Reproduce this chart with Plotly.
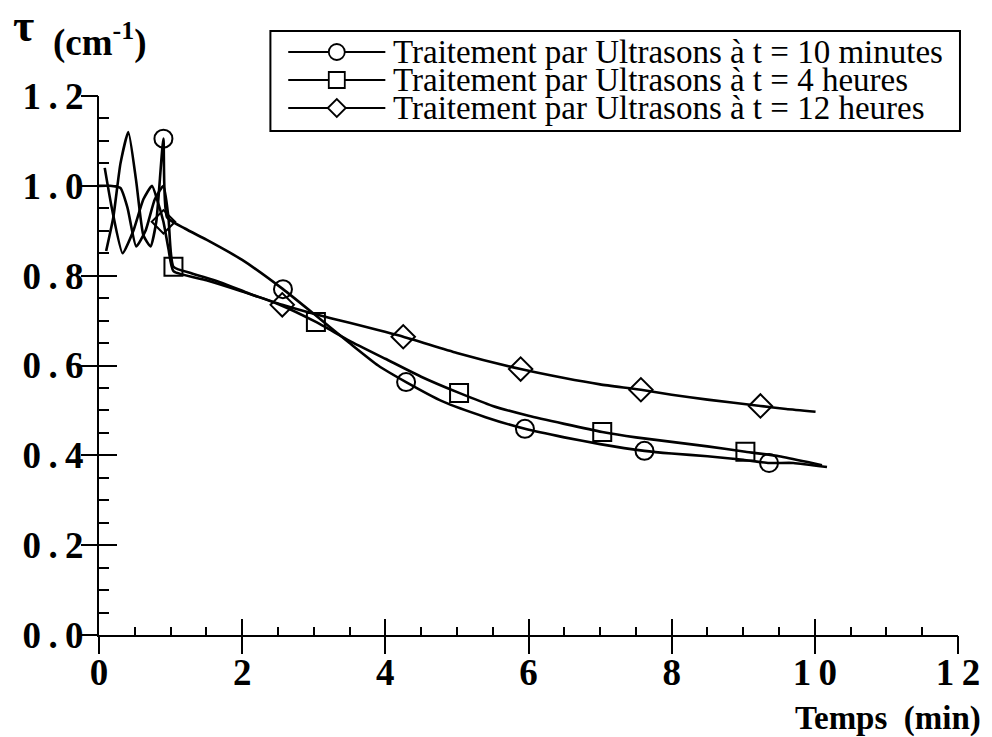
import plotly.graph_objects as go

# Turbidity tau (cm^-1) versus time (min) for three ultrasound treatment durations
labels = [
    "Traitement par Ultrasons à t = 10 minutes",
    "Traitement par Ultrasons à t = 4 heures",
    "Traitement par Ultrasons à t = 12 heures",
]

t_10min = [0.10, 0.20, 0.30, 0.41, 0.52, 0.62, 0.72, 0.80, 0.90, 0.95, 1.20, 1.50, 2.00, 2.57, 3.00,
           3.50, 3.90, 4.29, 4.80, 5.40, 5.95, 6.50, 7.00, 7.62, 8.00, 8.50, 9.00, 9.36, 9.70, 10.17]
tau_10min = [0.855, 0.93, 1.05, 1.12, 1.01, 0.89, 0.865, 0.92, 1.105, 0.93, 0.905, 0.88, 0.835, 0.77, 0.715,
             0.65, 0.60, 0.563, 0.52, 0.485, 0.459, 0.44, 0.425, 0.41, 0.404, 0.398, 0.39, 0.383, 0.383, 0.374]
marks_10min = [8, 13, 17, 20, 23, 27]

t_4h = [0.00, 0.15, 0.30, 0.40, 0.52, 0.65, 0.78, 0.90, 0.97, 1.04, 1.30, 1.70, 2.10, 2.50, 3.03,
        3.50, 4.00, 4.50, 5.03, 5.50, 6.00, 6.50, 7.03, 7.50, 8.00, 8.50, 9.03, 9.50, 9.90, 10.10]
tau_4h = [1.00, 1.00, 0.995, 0.95, 0.865, 0.90, 0.97, 1.00, 0.93, 0.82, 0.805, 0.785, 0.76, 0.737, 0.697,
          0.655, 0.615, 0.575, 0.539, 0.51, 0.488, 0.47, 0.452, 0.44, 0.43, 0.42, 0.408, 0.398, 0.385, 0.378]
marks_4h = [9, 14, 18, 22, 26]

t_12h = [0.08, 0.18, 0.33, 0.48, 0.62, 0.74, 0.82, 0.90, 0.97, 1.04, 1.50, 2.00, 2.56, 3.00, 3.50,
         4.25, 5.00, 5.89, 6.50, 7.00, 7.57, 8.00, 8.50, 9.24, 9.60, 10.01]
tau_12h = [1.04, 0.95, 0.85, 0.90, 0.97, 1.00, 0.965, 0.92, 0.86, 0.81, 0.79, 0.765, 0.735, 0.715, 0.695,
           0.664, 0.628, 0.592, 0.572, 0.558, 0.546, 0.535, 0.524, 0.51, 0.503, 0.497]
marks_12h = [7, 12, 15, 17, 20, 23]

x_ticks = [0, 2, 4, 6, 8, 10, 12]
x_ticktext = ["0", "2", "4", "6", "8", "1\u20090", "1\u20092"]
y_ticks = [0.0, 0.2, 0.4, 0.6, 0.8, 1.0, 1.2]
y_ticktext = ["0\u2009.\u20090", "0\u2009.\u20092", "0\u2009.\u20094", "0\u2009.\u20096",
              "0\u2009.\u20098", "1\u2009.\u20090", "1\u2009.\u20092"]

series = [
    (t_10min, tau_10min, marks_10min, "circle-open", labels[0]),
    (t_4h, tau_4h, marks_4h, "square-open", labels[1]),
    (t_12h, tau_12h, marks_12h, "diamond-open", labels[2]),
]

SERIF = "Liberation Serif, Times New Roman, serif"
INK = "black"

# page geometry (pixels)
W, H = 992, 737
ML, MR, MT, MB = 99, 26, 96, 102
PW, PH = W - ML - MR, H - MT - MB


def px(xp):
    """page pixel column -> paper x"""
    return (xp - ML) / PW


def py(yp):
    """page pixel row -> paper y"""
    return (H - MB - yp) / PH


fig = go.Figure()
for xs, ys, marks, symbol, name in series:
    fig.add_trace(go.Scatter(
        x=xs, y=ys, mode="lines", showlegend=False, hoverinfo="skip",
        line=dict(color=INK, width=2.6, shape="spline", smoothing=0.5),
    ))
    fig.add_trace(go.Scatter(
        x=[xs[i] for i in marks], y=[ys[i] for i in marks], mode="markers",
        showlegend=False, name=name,
        marker=dict(symbol=symbol, size=18, color=INK, line=dict(color=INK, width=2)),
    ))

# second pair of axes carries the outward half of the crossing major ticks
fig.add_trace(go.Scatter(x=[None], y=[None], xaxis="x2", yaxis="y2",
                         showlegend=False, hoverinfo="skip"))

tick_font = dict(family=SERIF, size=37, color=INK, weight="bold")

# boxed legend: line sample with the series symbol, then the label
LEG_L, LEG_R, LEG_T, LEG_B = 272, 968, 31, 131
ROW_Y0, ROW_DY = 52, 28
SAMPLE_L, SAMPLE_R, TEXT_L = 290, 388, 394
SYM = 9

shapes = [dict(type="rect", xref="paper", yref="paper",
               x0=px(LEG_L), x1=px(LEG_R), y0=py(LEG_T), y1=py(LEG_B),
               line=dict(color=INK, width=2), fillcolor="white", layer="above")]
annotations = []
for k, (_, _, _, symbol, name) in enumerate(series):
    ry = ROW_Y0 + k * ROW_DY
    cx = (SAMPLE_L + SAMPLE_R) / 2
    shapes.append(dict(type="line", xref="paper", yref="paper",
                       x0=px(SAMPLE_L), x1=px(SAMPLE_R), y0=py(ry), y1=py(ry),
                       line=dict(color=INK, width=2), layer="above"))
    common = dict(xref="paper", yref="paper", xsizemode="pixel", ysizemode="pixel",
                  xanchor=px(cx), yanchor=py(ry), fillcolor="white",
                  line=dict(color=INK, width=1.8), layer="above")
    if symbol.startswith("circle"):
        shapes.append(dict(type="circle", x0=-SYM + 1, x1=SYM - 1, y0=-SYM + 1, y1=SYM - 1, **common))
    elif symbol.startswith("square"):
        shapes.append(dict(type="rect", x0=-SYM + 1, x1=SYM - 1, y0=-SYM + 1, y1=SYM - 1, **common))
    else:
        shapes.append(dict(type="path", path=f"M{-SYM},0 L0,{SYM} L{SYM},0 L0,{-SYM} Z", **common))
    annotations.append(dict(text=name, xref="paper", yref="paper", x=px(TEXT_L), y=py(ry),
                            xanchor="left", yanchor="middle", showarrow=False,
                            font=dict(family=SERIF, size=33, color=INK)))

annotations += [
    dict(text="τ", xref="paper", yref="paper", x=px(10), y=py(25),
         xanchor="left", yanchor="middle", showarrow=False,
         font=dict(family=SERIF, size=46, color=INK, weight="bold")),
    dict(text="(cm<sup>-1</sup>)", xref="paper", yref="paper", x=px(51), y=py(40),
         xanchor="left", yanchor="middle", showarrow=False,
         font=dict(family=SERIF, size=37, color=INK, weight="bold")),
    dict(text="Temps  (min)", xref="paper", yref="paper", x=px(991), y=py(718),
         xanchor="right", yanchor="middle", showarrow=False,
         font=dict(family=SERIF, size=33, color=INK, weight="bold")),
]

fig.update_layout(
    width=W, height=H,
    margin=dict(l=ML, r=MR, t=MT, b=MB),
    paper_bgcolor="white", plot_bgcolor="white",
    showlegend=False,
    xaxis=dict(
        range=[0, 12], tickvals=x_ticks, ticktext=x_ticktext,
        showgrid=False, zeroline=False, showline=True, linecolor=INK, linewidth=2,
        ticks="inside", ticklen=16, tickwidth=2, tickcolor=INK,
        minor=dict(ticks="inside", dtick=0.5, ticklen=8, tickwidth=2, tickcolor=INK, showgrid=False),
        tickfont=tick_font, ticklabelstandoff=4,
    ),
    yaxis=dict(
        range=[0, 1.2], tickvals=y_ticks, ticktext=y_ticktext,
        showgrid=False, zeroline=False, showline=True, linecolor=INK, linewidth=2,
        ticks="inside", ticklen=18, tickwidth=2, tickcolor=INK,
        minor=dict(ticks="inside", dtick=0.05, ticklen=10, tickwidth=2, tickcolor=INK, showgrid=False),
        tickfont=tick_font, ticklabelstandoff=6,
    ),
    xaxis2=dict(
        range=[0, 12], overlaying="x", anchor="y2", tickvals=x_ticks, showticklabels=False,
        showgrid=False, zeroline=False, showline=False,
        ticks="outside", ticklen=18, tickwidth=2, tickcolor=INK,
    ),
    yaxis2=dict(
        range=[0, 1.2], overlaying="y", anchor="x2", tickvals=y_ticks, showticklabels=False,
        showgrid=False, zeroline=False, showline=False,
        ticks="outside", ticklen=17, tickwidth=2, tickcolor=INK,
    ),
    shapes=shapes,
    annotations=annotations,
)

fig.write_html("out.html")
